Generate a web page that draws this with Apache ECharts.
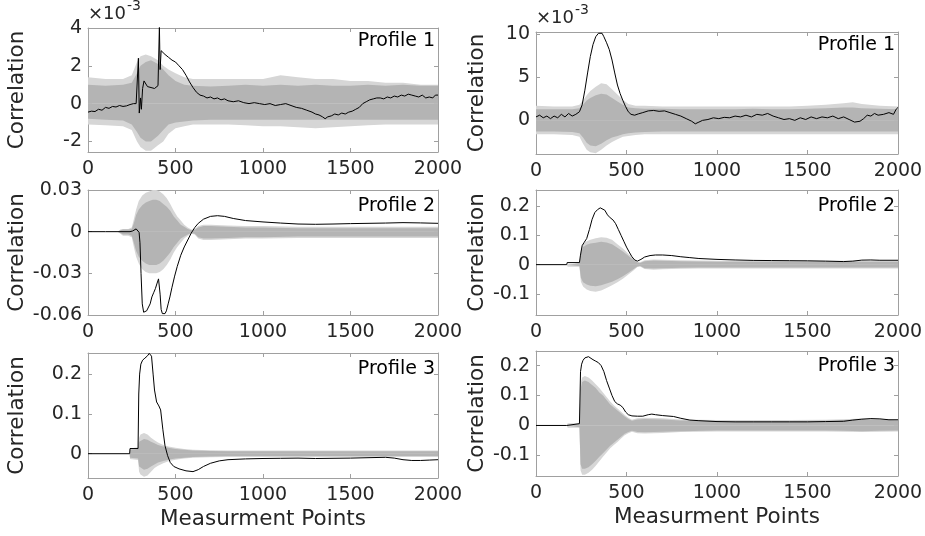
<!DOCTYPE html>
<html><head><meta charset="utf-8">
<script src="https://cdn.jsdelivr.net/npm/echarts@6/dist/echarts.min.js"></script>
<style>html,body{margin:0;padding:0;background:#fff}#c{width:925px;height:536px}</style>
</head><body><div id="c"></div>
<script>
// ---------- tick labels ----------
const xTicks = [0, 500, 1000, 1500, 2000];
const yTicksA = [-2, 0, 2, 4];
const yTicksB = [0, 5, 10];
const yTicksC = [-0.06, -0.03, 0, 0.03];
const yTicksD = [-0.1, 0, 0.1, 0.2];
const yTicksE = [0, 0.1, 0.2];
const yTicksF = [-0.1, 0, 0.1, 0.2];
const panelTitles = ['Profile 1', 'Profile 1', 'Profile 2', 'Profile 2', 'Profile 3', 'Profile 3'];
const yLabel = 'Correlation';
const xLabel = 'Measurment Points';
const expLabel = ['×10', '-3'];

// ---------- Panel A (top-left, values ×10^-3) ----------
const blackA_x = [0,20,40,60,80,100,120,140,160,180,200,220,240,260,275,283,288,293,300,305,312,320,330,340,350,360,370,380,390,400,405,408,412,418,425,440,460,480,500,520,540,560,580,600,620,640,660,680,700,720,740,760,780,800,830,860,890,920,950,980,1010,1040,1070,1100,1130,1160,1190,1220,1250,1280,1300,1320,1340,1355,1370,1390,1410,1430,1450,1470,1490,1510,1530,1550,1570,1590,1610,1630,1650,1670,1690,1710,1730,1750,1770,1790,1810,1830,1850,1870,1890,1910,1930,1950,1970,1985,2000];
const blackA_y = [-0.45,-0.4,-0.42,-0.3,-0.35,-0.2,-0.25,-0.15,-0.18,-0.1,-0.15,-0.12,-0.05,0.0,0.0,-0.05,2.4,-0.5,0.3,-0.3,0.8,1.2,1.1,0.9,1.0,0.85,0.9,0.8,0.75,0.95,1.0,4.1,1.8,2.8,2.7,2.6,2.45,2.3,2.2,2.0,1.8,1.5,1.15,0.85,0.6,0.45,0.4,0.3,0.35,0.25,0.3,0.2,0.25,0.15,0.1,0.15,0.05,0.0,0.05,0.0,-0.05,0.0,-0.1,-0.05,0.0,-0.1,-0.2,-0.25,-0.35,-0.45,-0.55,-0.6,-0.7,-0.8,-0.7,-0.65,-0.55,-0.6,-0.5,-0.55,-0.45,-0.4,-0.3,-0.2,0.0,0.1,0.2,0.25,0.3,0.3,0.25,0.35,0.3,0.4,0.35,0.45,0.4,0.5,0.45,0.4,0.35,0.45,0.3,0.35,0.3,0.45,0.45];
const envA_x = [0,100,200,250,280,300,330,360,400,430,460,500,550,600,700,800,900,1000,1100,1200,1300,1400,1500,1600,1700,1800,1900,2000];
const envA_upDense = [1.0,0.95,1.0,1.1,1.6,2.0,2.2,2.3,2.1,1.8,1.5,1.2,1.0,0.95,0.9,0.95,1.0,0.95,1.0,0.95,1.0,0.95,0.95,1.0,0.95,1.0,0.95,0.95];
const envA_upLight = [1.4,1.3,1.3,1.5,2.2,2.5,2.6,2.5,2.3,2.0,1.8,1.6,1.4,1.3,1.3,1.3,1.3,1.3,1.5,1.4,1.3,1.3,1.2,1.2,1.1,1.1,1.0,1.0];
const envA_loDense = [-0.8,-0.85,-0.9,-1.1,-1.5,-1.8,-2.0,-2.0,-1.7,-1.4,-1.1,-1.0,-0.95,-0.9,-0.85,-0.85,-0.85,-0.85,-0.85,-0.85,-0.85,-0.85,-0.85,-0.85,-0.85,-0.85,-0.85,-0.85];
const envA_loLight = [-1.1,-1.15,-1.2,-1.4,-2.0,-2.3,-2.5,-2.5,-2.2,-2.0,-1.6,-1.3,-1.2,-1.1,-1.1,-1.1,-1.15,-1.2,-1.2,-1.25,-1.3,-1.25,-1.2,-1.15,-1.1,-1.1,-1.1,-1.1];

// ---------- Panel B (top-right, values ×10^-3) ----------
const blackB_x = [0,20,40,60,80,100,120,140,160,180,200,220,240,255,270,285,300,315,330,345,355,365,375,390,405,420,435,450,465,480,495,510,525,545,565,590,620,650,680,710,740,770,800,830,860,880,900,920,950,980,1010,1040,1070,1100,1130,1160,1190,1220,1250,1280,1310,1340,1370,1400,1430,1460,1490,1520,1550,1580,1610,1640,1670,1700,1730,1760,1790,1810,1830,1850,1870,1890,1920,1950,1975,1990,2000];
const blackB_y = [0.4,0.6,0.3,0.5,0.2,0.5,0.3,0.7,0.4,0.8,0.5,0.7,1.0,1.8,3.5,5.5,7.4,8.8,9.7,10.1,10.3,10.1,9.7,9.0,8.2,7.0,5.5,4.1,3.1,2.3,1.6,1.0,0.7,0.6,0.75,0.9,1.1,1.15,1.05,1.1,0.9,0.7,0.5,0.2,-0.1,-0.4,-0.2,0.0,0.1,0.3,0.2,0.35,0.3,0.5,0.4,0.6,0.4,0.7,0.6,0.8,0.5,0.3,0.1,0.2,0.0,0.3,0.1,0.4,0.2,0.4,0.3,0.5,0.2,0.4,0.1,-0.2,-0.1,0.2,0.6,0.5,0.8,0.6,0.7,0.9,0.7,1.3,1.5];
const envB_x = [0,100,200,240,260,280,300,330,360,390,420,450,480,510,550,600,700,800,900,1000,1100,1200,1300,1400,1500,1600,1700,1750,1800,1900,2000];
const envB_upDense = [1.3,1.3,1.3,1.4,1.8,2.3,2.6,2.9,3.1,3.0,2.6,2.2,1.8,1.5,1.4,1.35,1.35,1.3,1.3,1.3,1.3,1.35,1.3,1.3,1.35,1.4,1.5,1.5,1.4,1.35,1.3];
const envB_upLight = [1.7,1.6,1.6,1.8,2.3,2.9,3.4,3.9,4.3,4.2,3.6,3.0,2.4,1.9,1.7,1.7,1.6,1.6,1.6,1.6,1.6,1.6,1.6,1.6,1.7,1.8,2.0,2.1,1.9,1.7,1.6];
const envB_loDense = [-1.3,-1.3,-1.35,-1.5,-2.0,-2.6,-2.9,-3.0,-2.7,-2.3,-2.0,-1.8,-1.6,-1.5,-1.4,-1.35,-1.3,-1.3,-1.3,-1.3,-1.3,-1.3,-1.3,-1.3,-1.3,-1.3,-1.3,-1.3,-1.3,-1.3,-1.3];
const envB_loLight = [-1.6,-1.6,-1.7,-1.9,-2.7,-3.4,-3.7,-3.8,-3.4,-2.9,-2.5,-2.2,-1.9,-1.8,-1.7,-1.6,-1.6,-1.6,-1.6,-1.6,-1.6,-1.6,-1.6,-1.6,-1.6,-1.6,-1.6,-1.6,-1.6,-1.6,-1.6];

// ---------- Panel C (middle-left) ----------
const blackC_x = [0,100,200,240,255,265,275,285,292,297,303,310,318,326,335,345,355,365,375,385,395,403,408,412,418,425,433,440,448,458,468,480,495,510,530,550,570,590,610,630,660,700,740,780,830,900,1000,1100,1200,1300,1400,1500,1600,1700,1800,1900,2000];
const blackC_y = [0,0,0,0,0.0005,0.0015,0.002,0.0012,-0.0005,-0.008,-0.03,-0.052,-0.058,-0.058,-0.057,-0.057,-0.052,-0.047,-0.044,-0.041,-0.037,-0.034,-0.033,-0.045,-0.056,-0.059,-0.06,-0.059,-0.057,-0.052,-0.047,-0.04,-0.032,-0.025,-0.017,-0.011,-0.006,-0.001,0.003,0.006,0.009,0.011,0.0115,0.011,0.0095,0.008,0.007,0.0062,0.0055,0.0053,0.0055,0.0058,0.006,0.0062,0.0065,0.0063,0.006];
const envC_x = [0,170,185,200,230,250,262,275,290,310,330,350,370,390,410,430,450,470,490,510,530,550,570,590,610,630,660,700,800,900,1000,1200,1400,1600,1800,2000];
const envC_upDense = [0,0,0.001,0.0015,0.0015,0.002,0.006,0.012,0.016,0.019,0.021,0.022,0.023,0.023,0.022,0.02,0.018,0.015,0.011,0.008,0.005,0.0035,0.002,0.001,0.0015,0.003,0.004,0.004,0.0035,0.003,0.003,0.0025,0.0025,0.0025,0.0025,0.0025];
const envC_upLight = [0,0,0.0015,0.002,0.002,0.003,0.009,0.016,0.022,0.026,0.028,0.029,0.030,0.030,0.029,0.027,0.024,0.020,0.015,0.011,0.008,0.005,0.003,0.0015,0.002,0.004,0.005,0.005,0.0045,0.004,0.004,0.0035,0.0035,0.0035,0.0035,0.0035];
const envC_loDense = [0,0,-0.001,-0.002,-0.002,-0.003,-0.008,-0.014,-0.018,-0.021,-0.023,-0.024,-0.024,-0.024,-0.023,-0.021,-0.018,-0.015,-0.011,-0.008,-0.005,-0.0035,-0.002,-0.001,-0.0015,-0.004,-0.005,-0.005,-0.0045,-0.004,-0.004,-0.0035,-0.0035,-0.0035,-0.0035,-0.0035];
const envC_loLight = [0,0,-0.0015,-0.003,-0.003,-0.004,-0.011,-0.018,-0.023,-0.027,-0.029,-0.030,-0.030,-0.030,-0.029,-0.027,-0.024,-0.020,-0.015,-0.011,-0.008,-0.005,-0.003,-0.0015,-0.002,-0.005,-0.006,-0.006,-0.0055,-0.005,-0.005,-0.0045,-0.0045,-0.0045,-0.0045,-0.0045];

// ---------- Panel D (middle-right) ----------
const blackD_x = [0,170,172,240,245,255,265,280,295,310,325,340,355,365,380,395,410,425,440,455,470,485,500,515,530,545,560,580,600,630,660,700,750,800,850,900,1000,1100,1200,1300,1400,1500,1600,1700,1750,1800,1850,1900,2000];
const blackD_y = [0,0,0.007,0.007,0.03,0.065,0.075,0.089,0.12,0.155,0.178,0.188,0.194,0.193,0.186,0.17,0.16,0.153,0.14,0.12,0.1,0.08,0.06,0.043,0.027,0.016,0.012,0.018,0.026,0.031,0.033,0.033,0.031,0.027,0.024,0.021,0.018,0.016,0.0145,0.014,0.0135,0.013,0.012,0.0105,0.012,0.0155,0.016,0.015,0.015];
const envD_x = [0,170,175,240,248,260,280,300,330,360,390,420,450,480,510,540,560,575,600,650,700,800,900,1000,1200,1400,1600,1800,2000];
const envD_upDense = [0,0,0.004,0.004,0.04,0.06,0.068,0.072,0.075,0.078,0.076,0.07,0.058,0.045,0.03,0.015,0.007,0.006,0.012,0.014,0.013,0.012,0.011,0.01,0.01,0.01,0.01,0.01,0.01];
const envD_upLight = [0,0,0.006,0.006,0.05,0.072,0.08,0.085,0.09,0.094,0.092,0.085,0.07,0.055,0.037,0.02,0.01,0.008,0.015,0.018,0.017,0.015,0.014,0.013,0.013,0.013,0.013,0.013,0.013];
const envD_loDense = [0,0,-0.005,-0.005,-0.045,-0.06,-0.068,-0.072,-0.074,-0.07,-0.064,-0.058,-0.05,-0.04,-0.028,-0.015,-0.006,-0.005,-0.012,-0.013,-0.012,-0.011,-0.01,-0.01,-0.01,-0.01,-0.01,-0.01,-0.01];
const envD_loLight = [0,0,-0.007,-0.007,-0.058,-0.075,-0.085,-0.09,-0.093,-0.088,-0.08,-0.07,-0.06,-0.048,-0.034,-0.019,-0.008,-0.006,-0.015,-0.017,-0.016,-0.014,-0.013,-0.013,-0.013,-0.013,-0.013,-0.013,-0.013];

// ---------- Panel E (bottom-left) ----------
const blackE_x = [0,238,240,286,290,295,302,312,325,340,350,356,363,372,380,392,405,415,428,440,455,470,490,520,560,600,630,660,700,750,800,900,1000,1100,1200,1300,1400,1500,1600,1700,1750,1800,1850,1900,1950,2000];
const blackE_y = [0,0,0.013,0.013,0.15,0.2,0.225,0.235,0.24,0.246,0.252,0.25,0.245,0.2,0.16,0.13,0.12,0.11,0.06,0.02,-0.005,-0.022,-0.032,-0.038,-0.043,-0.045,-0.04,-0.032,-0.024,-0.018,-0.015,-0.013,-0.012,-0.0115,-0.011,-0.012,-0.0115,-0.011,-0.01,-0.009,-0.011,-0.015,-0.017,-0.017,-0.016,-0.015];
const envE_x = [0,238,240,286,292,300,320,340,360,380,400,430,460,500,550,600,700,800,1000,1200,1400,1600,1800,2000];
const envE_upDense = [0,0,0.01,0.012,0.03,0.035,0.037,0.035,0.03,0.026,0.022,0.018,0.015,0.012,0.01,0.008,0.007,0.006,0.006,0.006,0.006,0.006,0.006,0.006];
const envE_upLight = [0,0,0.013,0.016,0.04,0.048,0.052,0.048,0.04,0.034,0.028,0.022,0.018,0.015,0.012,0.01,0.009,0.008,0.008,0.008,0.008,0.008,0.008,0.008];
const envE_loDense = [0,0,-0.01,-0.012,-0.032,-0.037,-0.04,-0.038,-0.032,-0.027,-0.022,-0.018,-0.015,-0.012,-0.01,-0.008,-0.007,-0.006,-0.006,-0.006,-0.006,-0.006,-0.006,-0.006];
const envE_loLight = [0,0,-0.013,-0.016,-0.045,-0.052,-0.058,-0.055,-0.045,-0.036,-0.03,-0.024,-0.019,-0.015,-0.012,-0.01,-0.009,-0.008,-0.008,-0.008,-0.008,-0.008,-0.008,-0.008];

// ---------- Panel F (bottom-right) ----------
const blackF_x = [0,170,172,240,246,252,260,270,280,290,300,315,330,345,360,375,390,405,420,435,450,465,480,495,510,530,560,590,620,640,660,700,760,800,850,900,1000,1100,1200,1300,1400,1500,1600,1700,1750,1800,1850,1900,1950,2000];
const blackF_y = [0,0,0.006,0.006,0.18,0.205,0.218,0.226,0.232,0.23,0.226,0.22,0.215,0.21,0.2,0.18,0.15,0.125,0.1,0.08,0.072,0.068,0.06,0.045,0.036,0.032,0.031,0.031,0.036,0.038,0.036,0.033,0.03,0.024,0.018,0.016,0.013,0.012,0.012,0.012,0.012,0.012,0.013,0.014,0.018,0.021,0.023,0.022,0.019,0.019];
const envF_x = [0,170,175,240,246,255,270,290,310,330,350,370,390,410,430,450,470,490,510,530,560,600,700,800,1000,1200,1400,1600,1700,1800,1900,2000];
const envF_upDense = [0,0,0.005,0.005,0.12,0.145,0.15,0.145,0.135,0.125,0.11,0.1,0.085,0.07,0.06,0.05,0.04,0.03,0.022,0.016,0.02,0.022,0.02,0.017,0.015,0.015,0.015,0.016,0.018,0.02,0.019,0.017];
const envF_upLight = [0,0,0.007,0.007,0.14,0.16,0.165,0.16,0.15,0.138,0.125,0.11,0.095,0.08,0.068,0.057,0.046,0.035,0.026,0.019,0.024,0.026,0.024,0.02,0.018,0.018,0.018,0.019,0.021,0.023,0.022,0.02];
const envF_loDense = [0,0,-0.006,-0.006,-0.13,-0.145,-0.145,-0.14,-0.13,-0.118,-0.105,-0.093,-0.08,-0.068,-0.058,-0.048,-0.038,-0.028,-0.022,-0.018,-0.022,-0.023,-0.021,-0.019,-0.017,-0.017,-0.017,-0.017,-0.018,-0.019,-0.018,-0.017];
const envF_loLight = [0,0,-0.008,-0.008,-0.15,-0.165,-0.165,-0.158,-0.148,-0.135,-0.12,-0.105,-0.09,-0.076,-0.065,-0.055,-0.044,-0.033,-0.026,-0.021,-0.026,-0.027,-0.025,-0.022,-0.02,-0.02,-0.02,-0.02,-0.021,-0.022,-0.021,-0.02];

// ---------- layout / style ----------
const FONT = 'DejaVu Sans';
const TXT = '#262626';
const AX = '#a0a0a0';
const LIGHT = '#d6d6d6';
const DENSE = '#b4b4b4';
const layout = [
  {left: 88,  top: 28,  width: 350, height: 124, ymin: -2.56, ymax: 4,     ticks: yTicksA, nameGap: 60, titleDy: 4, exp: true},
  {left: 536, top: 32,  width: 362, height: 122, ymin: -3.9,  ymax: 10.25, ticks: yTicksB, nameGap: 48, titleDy: 4, exp: true},
  {left: 88,  top: 190, width: 350, height: 125, ymin: -0.06, ymax: 0.03,  ticks: yTicksC, nameGap: 60, titleDy: 7},
  {left: 536, top: 190, width: 362, height: 125, ymin: -0.172,ymax: 0.255, ticks: yTicksD, nameGap: 48, titleDy: 7},
  {left: 88,  top: 353, width: 350, height: 125, ymin: -0.061,ymax: 0.253, ticks: yTicksE, nameGap: 60, titleDy: 7, xname: true},
  {left: 536, top: 351, width: 362, height: 125, ymin: -0.169,ymax: 0.249, ticks: yTicksF, nameGap: 48, titleDy: 6, xname: true}
];
const panels = [
  {bx: blackA_x, by: blackA_y, ex: envA_x, ud: envA_upDense, ul: envA_upLight, ld: envA_loDense, ll: envA_loLight},
  {bx: blackB_x, by: blackB_y, ex: envB_x, ud: envB_upDense, ul: envB_upLight, ld: envB_loDense, ll: envB_loLight},
  {bx: blackC_x, by: blackC_y, ex: envC_x, ud: envC_upDense, ul: envC_upLight, ld: envC_loDense, ll: envC_loLight},
  {bx: blackD_x, by: blackD_y, ex: envD_x, ud: envD_upDense, ul: envD_upLight, ld: envD_loDense, ll: envD_loLight},
  {bx: blackE_x, by: blackE_y, ex: envE_x, ud: envE_upDense, ul: envE_upLight, ld: envE_loDense, ll: envE_loLight},
  {bx: blackF_x, by: blackF_y, ex: envF_x, ud: envF_upDense, ul: envF_upLight, ld: envF_loDense, ll: envF_loLight}
];
const zip = (xs, ys) => xs.map((x, i) => [x, ys[i]]);
const plainNum = (v) => String(+v.toFixed(6));

const grid = [], xAxis = [], yAxis = [], series = [], graphic = [];
layout.forEach((L, i) => {
  grid.push({left: L.left, top: L.top, width: L.width, height: L.height, show: false, containLabel: false, outerBoundsMode: 'none'});
  const axLine = {show: true, onZero: false, lineStyle: {color: AX, width: 1}};
  const tickIn = (vals) => ({show: true, inside: true, length: 4, customValues: vals, lineStyle: {color: AX}});
  xAxis.push({
    type: 'value', gridIndex: i, min: 0, max: 2000, position: 'bottom',
    axisLine: axLine, axisTick: tickIn(xTicks), splitLine: {show: false},
    axisLabel: {customValues: xTicks, formatter: plainNum, color: TXT, fontFamily: FONT, fontSize: 19, margin: 8},
    name: L.xname ? xLabel : '', nameLocation: 'middle', nameGap: 30, nameMoveOverlap: false,
    nameTextStyle: {color: TXT, fontFamily: FONT, fontSize: 21.5}
  });
  xAxis.push({
    type: 'value', gridIndex: i, min: 0, max: 2000, position: 'top',
    axisLine: axLine, axisTick: tickIn(xTicks), axisLabel: {show: false}, splitLine: {show: false}
  });
  yAxis.push({
    type: 'value', gridIndex: i, min: L.ymin, max: L.ymax, position: 'left',
    axisLine: axLine, axisTick: tickIn(L.ticks), splitLine: {show: false},
    axisLabel: {customValues: L.ticks, formatter: plainNum, color: TXT, fontFamily: FONT, fontSize: 19, margin: 6},
    name: yLabel, nameLocation: 'middle', nameGap: L.nameGap, nameMoveOverlap: false,
    nameTextStyle: {color: TXT, fontFamily: FONT, fontSize: 21.5}
  });
  yAxis.push({
    type: 'value', gridIndex: i, min: L.ymin, max: L.ymax, position: 'right',
    axisLine: axLine, axisTick: tickIn(L.ticks), axisLabel: {show: false}, splitLine: {show: false}
  });
  const P = panels[i];
  const area = (ys, color) => ({
    type: 'line', xAxisIndex: 2 * i, yAxisIndex: 2 * i, data: zip(P.ex, ys),
    symbol: 'none', silent: true, lineStyle: {width: 0}, areaStyle: {color: color, opacity: 1},
    animation: false
  });
  series.push(area(P.ul, LIGHT), area(P.ll, LIGHT), area(P.ud, DENSE), area(P.ld, DENSE));
  series.push({
    type: 'line', xAxisIndex: 2 * i, yAxisIndex: 2 * i, data: zip(P.bx, P.by),
    symbol: 'none', silent: true, lineStyle: {color: '#000', width: 1}, animation: false, z: 5
  });
  graphic.push({
    type: 'text', right: 925 - (L.left + L.width) + 3, top: L.top + L.titleDy, z: 10,
    style: {text: panelTitles[i], fill: '#000', font: '19px "DejaVu Sans"'}
  });
  if (L.exp) {
    graphic.push({type: 'text', left: L.left, top: L.top - 23, z: 10,
      style: {text: expLabel[0], fill: TXT, font: '18px "DejaVu Sans"'}});
    graphic.push({type: 'text', left: L.left + 39, top: L.top - 29, z: 10,
      style: {text: expLabel[1], fill: TXT, font: '14px "DejaVu Sans"'}});
  }
});

const chart = echarts.init(document.getElementById('c'), null, {renderer: 'canvas'});
chart.setOption({
  animation: false, backgroundColor: '#fff',
  grid, xAxis, yAxis, series, graphic
});
</script></body></html>
